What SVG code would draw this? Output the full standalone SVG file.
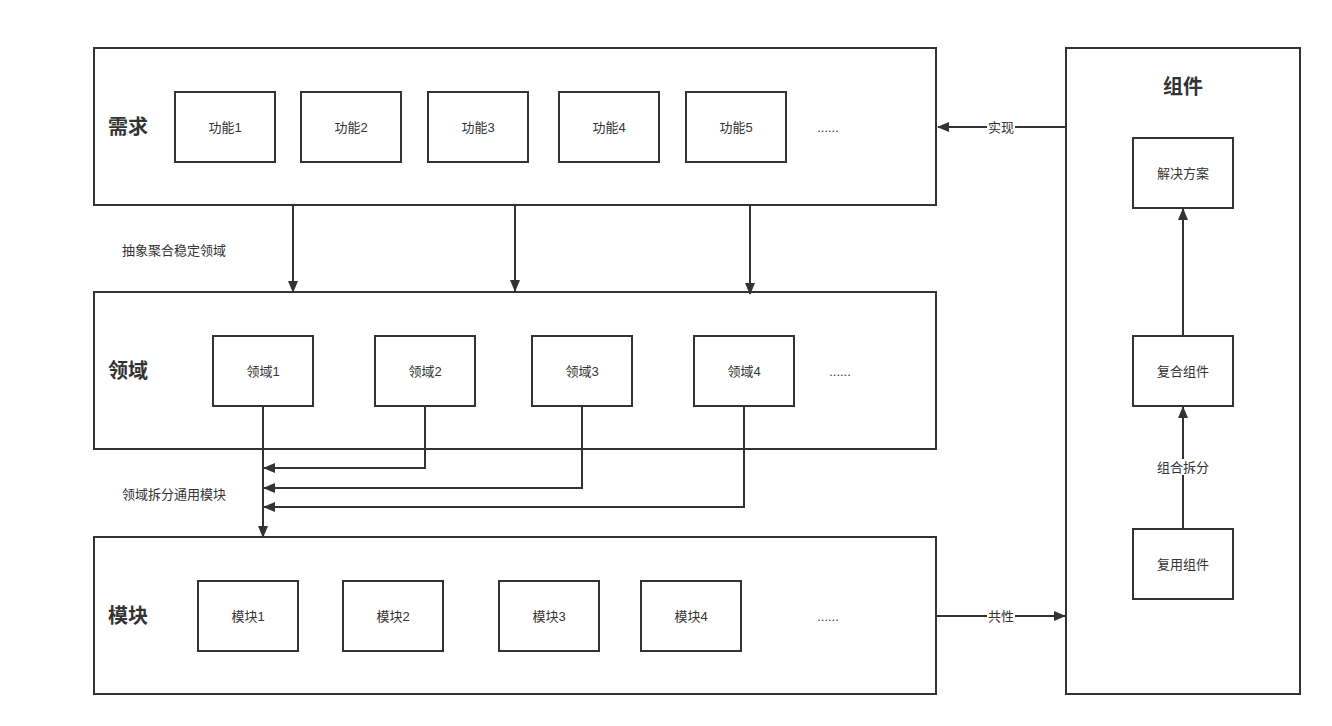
<svg xmlns="http://www.w3.org/2000/svg" width="1332" height="726" viewBox="0 0 1332 726">
<style>
.box{fill:#fff;stroke:#333;stroke-width:2}
.t{font-family:"Liberation Sans","Noto Sans CJK SC",sans-serif;font-size:13px;fill:#333;text-anchor:middle;dominant-baseline:central}
.tl{font-family:"Liberation Sans","Noto Sans CJK SC",sans-serif;font-size:13px;fill:#333;dominant-baseline:central}
.h{font-family:"Liberation Sans","Noto Sans CJK SC",sans-serif;font-size:20px;font-weight:bold;fill:#333;dominant-baseline:central}
.c{fill:none;stroke:#333;stroke-width:2}
.lbg{fill:#fff}
</style>
<defs>
<marker id="a" viewBox="0 0 12 10" refX="11" refY="5" markerWidth="12" markerHeight="10" markerUnits="userSpaceOnUse" orient="auto">
<path d="M0,0 L12,5 L0,10 Z" fill="#333"/>
</marker>
</defs>
<rect width="1332" height="726" fill="#fff"/>
<g id="req"><rect class="box" x="94" y="48" width="842" height="157"/><text class="h" x="108" y="127">需求</text></g>
<g id="dom"><rect class="box" x="94" y="292" width="842" height="157"/><text class="h" x="108" y="371">领域</text></g>
<g id="mod"><rect class="box" x="94" y="537" width="842" height="157"/><text class="h" x="108" y="616">模块</text></g>
<g id="comp"><rect class="box" x="1066" y="48" width="234" height="646"/><text class="h" x="1183" y="87" text-anchor="middle">组件</text></g>
<g id="f1"><rect class="box" x="175" y="92" width="100" height="70"/><text class="t" x="225" y="127">功能1</text></g>
<g id="f2"><rect class="box" x="301" y="92" width="100" height="70"/><text class="t" x="351" y="127">功能2</text></g>
<g id="f3"><rect class="box" x="428" y="92" width="100" height="70"/><text class="t" x="478" y="127">功能3</text></g>
<g id="f4"><rect class="box" x="559" y="92" width="100" height="70"/><text class="t" x="609" y="127">功能4</text></g>
<g id="f5"><rect class="box" x="686" y="92" width="100" height="70"/><text class="t" x="736" y="127">功能5</text></g>
<g id="fdots"><text class="t" x="828" y="127">......</text></g>
<g id="d1"><rect class="box" x="213" y="336" width="100" height="70"/><text class="t" x="263" y="371">领域1</text></g>
<g id="d2"><rect class="box" x="375" y="336" width="100" height="70"/><text class="t" x="425" y="371">领域2</text></g>
<g id="d3"><rect class="box" x="532" y="336" width="100" height="70"/><text class="t" x="582" y="371">领域3</text></g>
<g id="d4"><rect class="box" x="694" y="336" width="100" height="70"/><text class="t" x="744" y="371">领域4</text></g>
<g id="ddots"><text class="t" x="840" y="371">......</text></g>
<g id="m1"><rect class="box" x="198" y="581" width="100" height="70"/><text class="t" x="248" y="616">模块1</text></g>
<g id="m2"><rect class="box" x="343" y="581" width="100" height="70"/><text class="t" x="393" y="616">模块2</text></g>
<g id="m3"><rect class="box" x="499" y="581" width="100" height="70"/><text class="t" x="549" y="616">模块3</text></g>
<g id="m4"><rect class="box" x="641" y="581" width="100" height="70"/><text class="t" x="691" y="616">模块4</text></g>
<g id="mdots"><text class="t" x="828" y="616">......</text></g>
<g id="sol"><rect class="box" x="1133" y="138" width="100" height="70"/><text class="t" x="1183" y="173">解决方案</text></g>
<g id="cc"><rect class="box" x="1133" y="336" width="100" height="70"/><text class="t" x="1183" y="371">复合组件</text></g>
<g id="rc"><rect class="box" x="1133" y="529" width="100" height="70"/><text class="t" x="1183" y="564">复用组件</text></g>
<g id="connectors">
<path class="c" d="M293,205 V292" marker-end="url(#a)"/>
<path class="c" d="M515,205 V291" marker-end="url(#a)"/>
<path class="c" d="M750,205 V294" marker-end="url(#a)"/>
<path class="c" d="M263,406 V537" marker-end="url(#a)"/>
<path class="c" d="M425,406 V468 H264" marker-end="url(#a)"/>
<path class="c" d="M582,406 V488 H264" marker-end="url(#a)"/>
<path class="c" d="M744,406 V507 H264" marker-end="url(#a)"/>
<path class="c" d="M1066,127 H938" marker-end="url(#a)"/>
<path class="c" d="M936,616 H1065" marker-end="url(#a)"/>
<path class="c" d="M1183,529 V407" marker-end="url(#a)"/>
<path class="c" d="M1183,336 V209" marker-end="url(#a)"/>
<rect class="lbg" x="987" y="119" width="28" height="16"/>
<text class="t" x="1001" y="127">实现</text>
<rect class="lbg" x="987" y="608" width="28" height="16"/>
<text class="t" x="1001" y="616">共性</text>
<rect class="lbg" x="1157" y="459" width="52" height="16"/>
<text class="t" x="1183" y="467">组合拆分</text>
<text class="tl" x="122" y="250">抽象聚合稳定领域</text>
<text class="tl" x="122" y="494">领域拆分通用模块</text>
</g>
</svg>
